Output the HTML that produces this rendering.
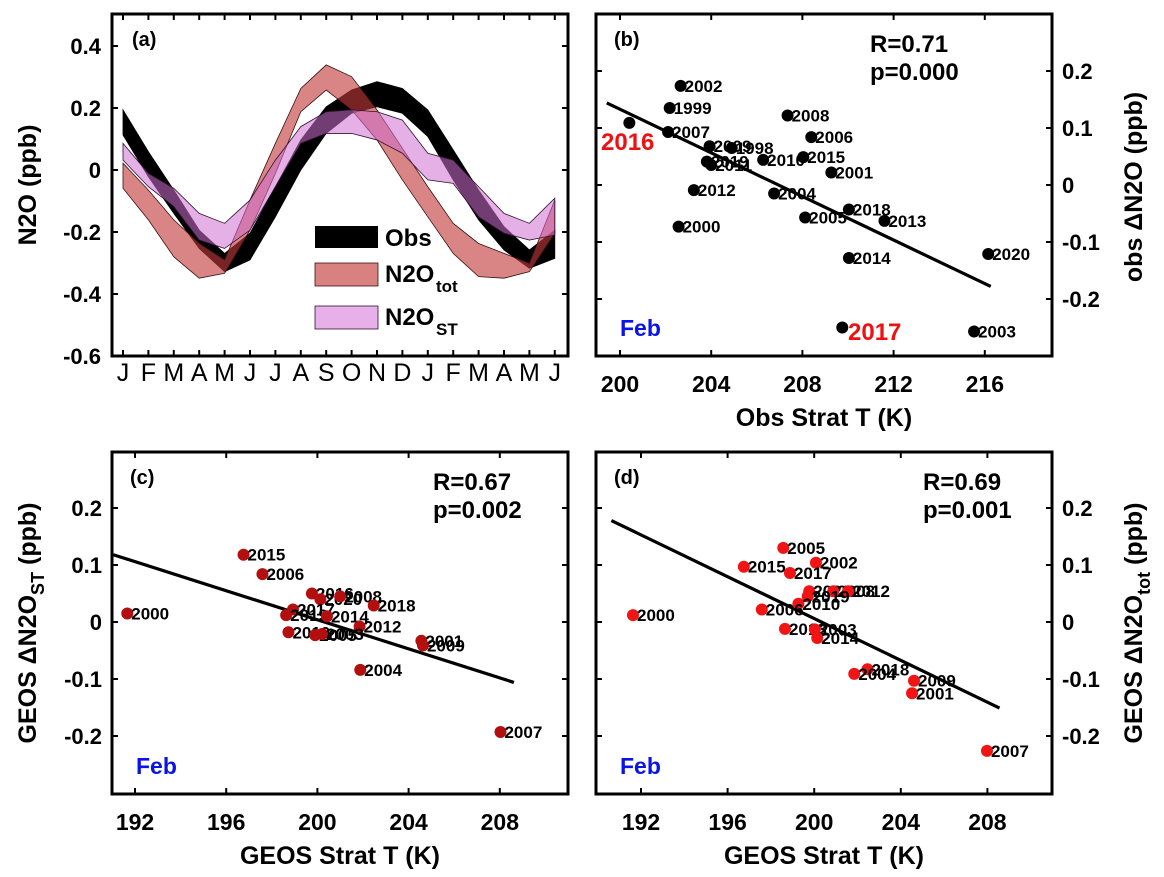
<!DOCTYPE html>
<html><head><meta charset="utf-8"><style>
html,body{margin:0;padding:0;background:#fff;}
svg{display:block;font-family:"Liberation Sans",sans-serif;}
</style></head><body>
<svg id="fig" width="1164" height="877" viewBox="0 0 1164 877" xmlns="http://www.w3.org/2000/svg"></svg>
<script>
// ---------- Panel (a) data ----------
const months = ["J","F","M","A","M","J","J","A","S","O","N","D","J","F","M","A","M","J"];
const obsTop = [0.194,0.059,-0.065,-0.194,-0.269,-0.204,-0.054,0.097,0.204,0.258,0.285,0.263,0.194,0.065,-0.065,-0.183,-0.258,-0.194];
const obsBot = [0.113,-0.022,-0.140,-0.253,-0.328,-0.290,-0.151,0.0,0.118,0.183,0.204,0.183,0.108,-0.032,-0.161,-0.258,-0.317,-0.285];
const totTop = [0.022,-0.065,-0.161,-0.237,-0.290,-0.097,0.086,0.263,0.339,0.301,0.194,0.070,-0.054,-0.172,-0.237,-0.269,-0.301,-0.097];
const totBot = [-0.059,-0.161,-0.280,-0.349,-0.333,-0.194,-0.011,0.188,0.258,0.194,0.097,-0.032,-0.151,-0.269,-0.344,-0.349,-0.328,-0.204];
const stTop = [0.086,-0.011,-0.059,-0.140,-0.172,-0.097,0.032,0.140,0.188,0.194,0.188,0.161,0.054,0.032,-0.054,-0.140,-0.172,-0.091];
const stBot = [0.032,-0.054,-0.118,-0.226,-0.253,-0.194,-0.054,0.086,0.118,0.118,0.097,0.054,-0.032,-0.043,-0.151,-0.204,-0.226,-0.210];
const aYTicks = [0.4,0.2,0,-0.2,-0.4,-0.6];
const aYLabels = ["0.4","0.2","0","-0.2","-0.4","-0.6"];

// ---------- Panel (b) data ----------
const bYears = ["2002","1999","2016","2007","2009","1998","2019","2011","2010","2008","2006","2015","2001","2012","2004","2005","2018","2013","2000","2014","2020","2017","2003"];
const bT = [202.66,202.18,200.41,202.11,203.93,204.9,203.81,204.0,206.28,207.35,208.39,208.04,209.27,203.24,206.76,208.12,210.04,211.6,202.57,210.04,216.15,209.75,215.53];
const bV = [0.174,0.135,0.109,0.093,0.068,0.065,0.041,0.035,0.044,0.122,0.084,0.049,0.022,-0.009,-0.015,-0.057,-0.043,-0.063,-0.073,-0.128,-0.121,-0.250,-0.257];
const bLineT = [199.42,216.26];
const bLineV = [0.144,-0.178];
const bXTicks = [200,204,208,212,216];
const yTicks = [0.2,0.1,0,-0.1,-0.2];
const yLabels = ["0.2","0.1","0","-0.1","-0.2"];

// ---------- Panel (c) data ----------
const cYears = ["2015","2006","2016","2020","2008","2018","2000","2017","2019","2014","2012","2010","2005","2003","2001","2009","2004","2007"];
const cT = [196.76,197.59,199.76,200.13,201.0,202.47,191.66,198.93,198.63,200.42,201.85,198.73,199.9,200.2,204.56,204.63,201.88,208.03];
const cV = [0.118,0.084,0.050,0.040,0.045,0.029,0.015,0.022,0.012,0.010,-0.008,-0.018,-0.023,-0.021,-0.033,-0.041,-0.084,-0.193];
const cLineT = [191.05,208.62];
const cLineV = [0.118,-0.106];
const cdXTicks = [192,196,200,204,208];

// ---------- Panel (d) data ----------
const dYears = ["2005","2002","2015","2017","2020","2008","2012","2019","2010","2006","2000","2013","2003","2014","2018","2004","2009","2001","2007"];
const dT = [198.57,200.08,196.75,198.88,199.77,200.88,201.57,199.7,199.27,197.58,191.63,198.65,200.03,200.14,202.46,201.85,204.61,204.52,207.98];
const dV = [0.130,0.104,0.097,0.086,0.054,0.054,0.054,0.045,0.032,0.022,0.012,-0.012,-0.013,-0.028,-0.083,-0.091,-0.103,-0.125,-0.226];
const dLineT = [190.63,208.56];
const dLineV = [0.178,-0.151];

const NS = "http://www.w3.org/2000/svg";
const svg = document.getElementById("fig");
function mk(tag, attrs, parent){
  const e = document.createElementNS(NS, tag);
  for (const k in attrs) e.setAttribute(k, attrs[k]);
  (parent||svg).appendChild(e);
  return e;
}
function txt(str, x, y, size, opts, parent){
  const o = opts||{};
  const t = mk("text", {x:x, y:y, "font-size":size, "font-weight":o.w||"bold", fill:o.fill||"#000", "text-anchor":o.anchor||"start"}, parent);
  if (o.rot) t.setAttribute("transform", "rotate(" + o.rot + " " + x + " " + y + ")");
  t.textContent = str;
  return t;
}

// ---------- Panel (a) ----------
const A = {x0:112, y0:14, x1:568, y1:356};
const ax = m => 123 + 25.4*m;
const ay = v => 170 - v*310;
const gA = mk("g", {});


function band(top, bot, fill, stroke, op, name){
  let pts = [];
  for (let i=0;i<top.length;i++) pts.push(ax(i)+","+ay(top[i]));
  for (let i=bot.length-1;i>=0;i--) pts.push(ax(i)+","+ay(bot[i]));
  const p = mk("polygon", {points:pts.join(" "), fill:fill, "fill-opacity":op, stroke:stroke, "stroke-width":0.8}, gA);
  
  
}
band(obsTop, obsBot, "#000", "#000", 1, "obs-band");
band(totTop, totBot, "#c23a3a", "#3a1010", 0.62, "n2o-tot-band");
band(stTop, stBot, "#d070d0", "#301030", 0.55, "n2o-st-band");
const boxA = mk("rect", {x:A.x0, y:A.y0, width:A.x1-A.x0, height:A.y1-A.y0, fill:"none", stroke:"#000", "stroke-width":3}, gA);


months.forEach((m,i)=>{
  const x = ax(i);
  mk("line", {x1:x, y1:A.y1, x2:x, y2:A.y1-6, stroke:"#000", "stroke-width":2}, gA);
  mk("line", {x1:x, y1:A.y0, x2:x, y2:A.y0+6, stroke:"#000", "stroke-width":2}, gA);
  const t = txt(m, x, 381, 25, {w:"normal", anchor:"middle"}, gA);
  
  
});
aYTicks.forEach((v,i)=>{
  const y = ay(v);
  mk("line", {x1:A.x0, y1:y, x2:A.x0+6, y2:y, stroke:"#000", "stroke-width":2}, gA);
  mk("line", {x1:A.x1, y1:y, x2:A.x1-6, y2:y, stroke:"#000", "stroke-width":2}, gA);
  const t = txt(aYLabels[i], 101, y+8, 22, {anchor:"end"}, gA);
  
  
});
txt("(a)", 132, 46, 20, {}, gA);
const ytA = txt("N2O (ppb)", 36, 185, 25, {anchor:"middle", rot:-90}, gA);

const lg = mk("g", {}, gA);


const s1 = mk("rect", {x:315, y:226, width:63, height:22, fill:"#000"}, lg);

const s2 = mk("rect", {x:315, y:263, width:63, height:23, fill:"#d98080", stroke:"#3a1010", "stroke-width":0.8}, lg);

const s3 = mk("rect", {x:315, y:306, width:63, height:23, fill:"#e8b0e8", stroke:"#301030", "stroke-width":0.8}, lg);

txt("Obs", 385, 246, 24, {}, lg);
const l2 = txt("N2O", 385, 282, 24, {}, lg);

txt("tot", 436, 292, 17, {}, lg);
const l3 = txt("N2O", 385, 325, 24, {}, lg);

txt("ST", 436, 335, 17, {}, lg);

// ---------- Scatter panels ----------
function scatterPanel(cfg){
  const g = mk("g", {});
  
  
  const {x0,y0,x1,y1} = cfg.box;
  const X = cfg.X, Y = cfg.Y;
  const ln = mk("line", {x1:X(cfg.lineT[0]), y1:Y(cfg.lineV[0]), x2:X(cfg.lineT[1]), y2:Y(cfg.lineV[1]), stroke:"#000", "stroke-width":3.2}, g);
  
  
  cfg.years.forEach((yr,i)=>{
    const cx = X(cfg.T[i]), cy = Y(cfg.V[i]);
    const c = mk("circle", {cx:cx, cy:cy, r:6, fill:cfg.color}, g);
    
    
    if (cfg.red && cfg.red.indexOf(yr) >= 0) return;
    const t = txt(yr, cx+4, cy+6, 17, {w:"bold"}, g);
    
    
  });
  const fr = mk("rect", {x:x0, y:y0, width:x1-x0, height:y1-y0, fill:"none", stroke:"#000", "stroke-width":3}, g);
  
  
  cfg.xTicks.forEach(v=>{
    const x = X(v);
    mk("line", {x1:x, y1:y1, x2:x, y2:y1-6, stroke:"#000", "stroke-width":2}, g);
    mk("line", {x1:x, y1:y0, x2:x, y2:y0+6, stroke:"#000", "stroke-width":2}, g);
    const t = txt(String(v), x, y1+36, 23, {anchor:"middle"}, g);
    
    
  });
  yTicks.forEach((v,i)=>{
    const y = Y(v);
    mk("line", {x1:x0, y1:y, x2:x0+6, y2:y, stroke:"#000", "stroke-width":2}, g);
    mk("line", {x1:x1, y1:y, x2:x1-6, y2:y, stroke:"#000", "stroke-width":2}, g);
    const t = cfg.right ? txt(yLabels[i], x1+10, y+8, 22, {}, g) : txt(yLabels[i], x0-10, y+8, 22, {anchor:"end"}, g);
    
    
  });
  txt(cfg.label, x0+18, y0+32, 20, {}, g);
  txt(cfg.R, cfg.rx, y0+38, 24, {}, g);
  txt(cfg.P, cfg.rx, y0+66, 24, {}, g);
  txt("Feb", x0+24, y1-20, 23, {fill:"#0a14e6"}, g);
  const xt = txt(cfg.xTitle, (x0+x1)/2, y1+70, 25, {anchor:"middle"}, g);
  
  
  return g;
}
const gB = scatterPanel({name:"panel-b", box:{x0:596,y0:14,x1:1052,y1:356},
  X:T=>620+(T-200)*22.8, Y:v=>185-v*570, years:bYears, T:bT, V:bV, lineT:bLineT, lineV:bLineV,
  xTicks:bXTicks, right:true, color:"#000", label:"(b)", R:"R=0.71", P:"p=0.000", rx:870,
  xTitle:"Obs Strat T (K)", red:["2016","2017"]});
txt("2016", 601, 150, 24, {fill:"#ee1111"}, gB);
txt("2017", 848, 340, 24, {fill:"#ee1111"}, gB);
const ytB = txt("obs \u0394N2O (ppb)", 1142, 187, 25, {anchor:"middle", rot:-90}, gB);


const gC = scatterPanel({name:"panel-c", box:{x0:112,y0:452,x1:568,y1:794},
  X:T=>135+(T-192)*22.8, Y:v=>622-v*570, years:cYears, T:cT, V:cV, lineT:cLineT, lineV:cLineV,
  xTicks:cdXTicks, right:false, color:"#b40f0f", label:"(c)", R:"R=0.67", P:"p=0.002", rx:433,
  xTitle:"GEOS Strat T (K)"});
const ytC = mk("text", {x:36, y:623, "font-size":25, "font-weight":"bold", "text-anchor":"middle", transform:"rotate(-90 36 623)"}, gC);


ytC.innerHTML = 'GEOS \u0394N2O<tspan font-size="18" dy="8">ST</tspan><tspan dy="-8"> (ppb)</tspan>';

const gD = scatterPanel({name:"panel-d", box:{x0:596,y0:452,x1:1052,y1:794},
  X:T=>641+(T-192)*21.65, Y:v=>622-v*570, years:dYears, T:dT, V:dV, lineT:dLineT, lineV:dLineV,
  xTicks:cdXTicks, right:true, color:"#f01414", label:"(d)", R:"R=0.69", P:"p=0.001", rx:923,
  xTitle:"GEOS Strat T (K)"});
const ytD = mk("text", {x:1142, y:623, "font-size":25, "font-weight":"bold", "text-anchor":"middle", transform:"rotate(-90 1142 623)"}, gD);


ytD.innerHTML = 'GEOS \u0394N2O<tspan font-size="18" dy="8">tot</tspan><tspan dy="-8"> (ppb)</tspan>';
</script>
</body></html>
